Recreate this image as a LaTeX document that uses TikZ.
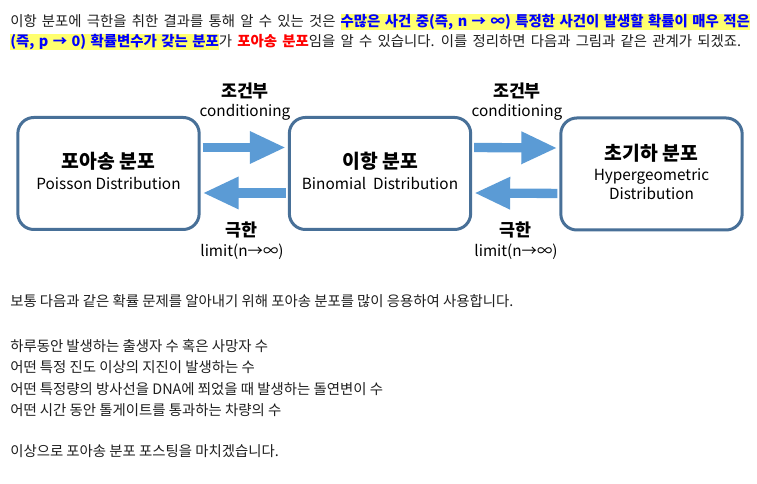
\documentclass[tikz,border=0pt]{standalone}
\usepackage{fontspec}
\setmainfont{Noto Sans CJK KR}
\usetikzlibrary{arrows.meta}
\definecolor{hlyellow}{RGB}{255,255,110}
\definecolor{hlblue}{RGB}{0,0,255}
\definecolor{hlred}{RGB}{255,0,0}
\definecolor{boxline}{RGB}{72,112,152}
\definecolor{arrowfill}{RGB}{91,155,213}
\definecolor{bodytext}{RGB}{30,30,30}
\newcommand{\widespaces}{\spaceskip=\fontdimen2\font\advance\spaceskip by 1.5pt\relax}
\newcommand{\hlspaces}{\spaceskip=\fontdimen2\font\advance\spaceskip by 0.9pt\relax}
\newcommand{\hlmark}[1]{{\setlength{\fboxsep}{0pt}\colorbox{hlyellow}{\rule[-1.6pt]{0pt}{11.6pt}\bfseries\hlspaces\color{hlblue}#1}}}
\newcommand{\redmark}[1]{{\bfseries\color{hlred}#1}}
\begin{document}
\begin{tikzpicture}[x=0.75pt,y=-0.75pt,
  bodyline/.style={anchor=base west, inner sep=0pt, text=bodytext, font=\fontsize{10.8}{13}\selectfont},
  distbox/.style={draw=boxline, line width=2.25pt, rounded corners=12pt, minimum width=136pt, minimum height=84pt, inner sep=0pt},
  boxtitle/.style={anchor=base, inner sep=0pt, font=\fontsize{14.5}{17}\selectfont\bfseries},
  boxsub/.style={anchor=base, inner sep=0pt, font=\fontsize{11.5}{14}\selectfont},
  lbltop/.style={anchor=base, inner sep=0pt, font=\fontsize{13}{15}\selectfont\bfseries},
  lblsub/.style={anchor=base, inner sep=0pt, font=\fontsize{11.5}{14}\selectfont},
  blockarrow/.style={draw=arrowfill, line width=7pt, -{Triangle[width=22.5pt,length=27pt,fill=arrowfill]}}
]
\useasboundingbox[fill=white] (0,0) rectangle (757,484);

% top paragraph
\node[bodyline] (t1) at (10,27) {\widespaces 이항 분포에 극한을 취한 결과를 통해 알 수 있는 것은 \hlmark{수많은 사건 중(즉, n → ∞) 특정한 사건이 발생할 확률이 매우 적은}};
\node[bodyline] (t2) at (10,47) {\widespaces\hlmark{(즉, p → 0) 확률변수가 갖는 분포}가 \redmark{포아송 분포}임을 알 수 있습니다. 이를 정리하면 다음과 그림과 같은 관계가 되겠죠.};

% boxes
\node[distbox] (poisson) at (108.5,173.5) {};
\node[distbox] (binom) at (380,173.5) {};
\node[distbox] (hyper) at (651.5,174) {};

\node[boxtitle] (pt) at (108.5,169) {포아송 분포};
\node[boxsub] (ps) at (108.5,190) {Poisson Distribution};
\node[boxtitle] (bt) at (380,169) {이항 분포};
\node[boxsub] (bs) at (380,190) {Binomial\ \ Distribution};
\node[boxtitle] (ht) at (651.5,161) {초기하 분포};
\node[boxsub] (hs1) at (651.5,181) {Hypergeometric};
\node[boxsub] (hs2) at (651.5,200) {Distribution};

% arrows
\draw[blockarrow, shorten <=1.5pt, shorten >=1.5pt] ([yshift=19.5pt]poisson.east) -- ([yshift=19.5pt]binom.west);
\draw[blockarrow, shorten <=1.5pt, shorten >=1.5pt] ([yshift=-14.6pt]binom.west) -- ([yshift=-14.6pt]poisson.east);
\draw[blockarrow, shorten <=1.5pt, shorten >=1.5pt] ([yshift=19.5pt]binom.east) -- ([yshift=19.5pt]hyper.west);
\draw[blockarrow, shorten <=1.5pt, shorten >=1.5pt] ([yshift=-14.6pt]hyper.west) -- ([yshift=-14.6pt]binom.east);

% arrow labels
\node[lbltop] (c1) at (245,98) {조건부};
\node[lblsub] (c1s) at (245,117) {conditioning};
\node[lbltop] (l1) at (241,237) {극한};
\node[lblsub] (l1s) at (242,257) {limit(n→∞)};
\node[lbltop] (c2) at (517,98) {조건부};
\node[lblsub] (c2s) at (517,117) {conditioning};
\node[lbltop] (l2) at (515,237) {극한};
\node[lblsub] (l2s) at (516,257) {limit(n→∞)};

% bottom paragraph
\node[bodyline] (b1) at (10,307) {보통 다음과 같은 확률 문제를 알아내기 위해 포아송 분포를 많이 응용하여 사용합니다.};
\node[bodyline] (b2) at (10,352) {하루동안 발생하는 출생자 수 혹은 사망자 수};
\node[bodyline] (b3) at (10,373) {어떤 특정 진도 이상의 지진이 발생하는 수};
\node[bodyline] (b4) at (10,395) {어떤 특정량의 방사선을 DNA에 쬐었을 때 발생하는 돌연변이 수};
\node[bodyline] (b5) at (10,416) {어떤 시간 동안 톨게이트를 통과하는 차량의 수};
\node[bodyline] (b6) at (10,456) {이상으로 포아송 분포 포스팅을 마치겠습니다.};
\end{tikzpicture}
\end{document}
